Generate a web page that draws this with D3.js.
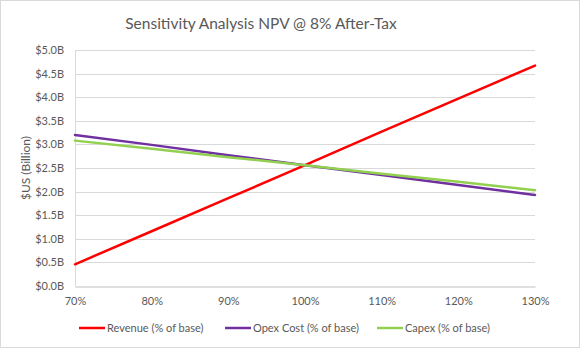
<!DOCTYPE html>
<html>
<head>
<meta charset="utf-8">
<script src="https://cdn.jsdelivr.net/npm/d3@7"></script>
<style>
  body { margin: 0; background: #fff; }
  text { font-family: Lato, 'Open Sans', sans-serif; }
</style>
</head>
<body>
<div id="container"></div>
<script>
const width = 580;
const height = 348;

// sensitivity levels (% of base)
const levels = [70, 80, 90, 100, 110, 120, 130];
// NPV in $ billion
const revenue = [0.46, 1.16, 1.86, 2.56, 3.27, 3.97, 4.67];
const opex = [3.20, 2.99, 2.77, 2.56, 2.35, 2.14, 1.93];
const capex = [3.08, 2.91, 2.73, 2.56, 2.38, 2.21, 2.03];
const yTicks = [0, 0.5, 1.0, 1.5, 2.0, 2.5, 3.0, 3.5, 4.0, 4.5, 5.0];

const series = [
    { name: 'Revenue (% of base)', values: revenue, color: '#ff0000' },
    { name: 'Opex Cost (% of base)', values: opex, color: '#7030a0' },
    { name: 'Capex (% of base)', values: capex, color: '#92d050' }
];

const svg = d3.select('#container')
    .append('svg')
    .attr('width', width)
    .attr('height', height);

svg.append('rect')
    .attr('x', 0.5).attr('y', 0.5)
    .attr('width', width - 1).attr('height', height - 1)
    .attr('fill', '#fff')
    .attr('stroke', '#d9d9d9');

const x = d3.scaleLinear().domain([70, 130]).range([75, 535]);
const y = d3.scaleLinear().domain([0, 5]).range([286, 50]);

// title
svg.append('text')
    .attr('x', 261).attr('y', 29)
    .attr('text-anchor', 'middle')
    .style('font-size', '15.5px')
    .attr('fill', '#595959')
    .text('Sensitivity Analysis NPV @ 8% After-Tax');

// gridlines
svg.append('g')
    .selectAll('line')
    .data(yTicks.filter(d => d > 0))
    .enter().append('line')
    .attr('x1', x(70)).attr('x2', x(130))
    .attr('y1', d => Math.round(y(d)) + 0.5)
    .attr('y2', d => Math.round(y(d)) + 0.5)
    .attr('stroke', '#d9d9d9');

// y axis
const yAxis = svg.append('g')
    .attr('transform', `translate(${x(70)},0)`)
    .call(d3.axisLeft(y).tickValues(yTicks).tickSize(0).tickPadding(11)
        .tickFormat(d => '$' + d.toFixed(1) + 'B'));
yAxis.select('.domain').attr('stroke', '#d9d9d9');
yAxis.selectAll('text').style('font-size', '11px').attr('fill', '#595959')
    .style('font-family', 'Lato, sans-serif');

// x axis
const xAxis = svg.append('g')
    .attr('transform', `translate(0,${Math.round(y(0)) + 0.5})`)
    .call(d3.axisBottom(x).tickValues(levels).tickSize(0).tickPadding(11)
        .tickFormat(d => d + '%'));
xAxis.select('.domain').attr('stroke', '#bfbfbf');
xAxis.selectAll('text').style('font-size', '11px').attr('fill', '#595959')
    .style('font-family', 'Lato, sans-serif');

// y axis title
svg.append('text')
    .attr('transform', 'translate(30,168) rotate(-90)')
    .attr('text-anchor', 'middle')
    .style('font-size', '12px')
    .attr('fill', '#595959')
    .text('$US (Billion)');

// lines
const line = d3.line()
    .x((d, i) => x(levels[i]))
    .y(d => y(d));

svg.append('g')
    .selectAll('path')
    .data(series)
    .enter().append('path')
    .attr('d', d => line(d.values))
    .attr('fill', 'none')
    .attr('stroke', d => d.color)
    .attr('stroke-width', 2.5)
    .attr('stroke-linecap', 'round');

// legend
const legendX = [79, 225, 377];
const legend = svg.append('g')
    .selectAll('g')
    .data(series)
    .enter().append('g')
    .attr('transform', (d, i) => `translate(${legendX[i]},328)`);

legend.append('line')
    .attr('x1', 0).attr('x2', 26)
    .attr('y1', 0).attr('y2', 0)
    .attr('stroke', d => d.color)
    .attr('stroke-width', 2.5);

legend.append('text')
    .attr('x', 28).attr('y', 4)
    .style('font-size', '11px')
    .attr('fill', '#595959')
    .text(d => d.name);
</script>
</body>
</html>
